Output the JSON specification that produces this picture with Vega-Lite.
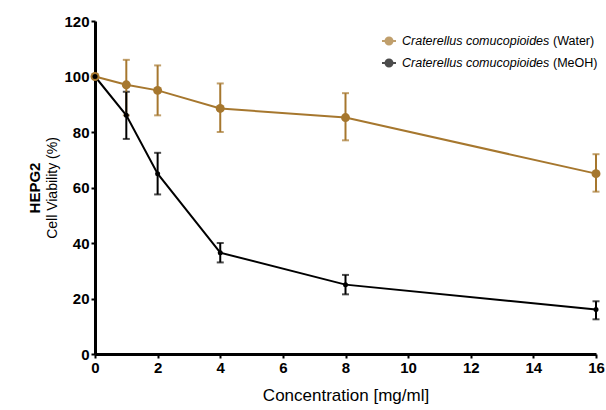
{
  "$schema": "https://vega.github.io/schema/vega-lite/v6.json",
  "width": 501,
  "height": 333,
  "autosize": {"type": "none"},
  "padding": {"left": 95, "top": 21, "right": 10, "bottom": 56},
  "background": "white",
  "config": {
    "view": {"stroke": null},
    "font": "Liberation Sans"
  },
  "data": {
    "values": [
      {"series": "Water", "conc": 0, "mean": 100, "lo": null, "hi": null},
      {"series": "Water", "conc": 1, "mean": 97, "lo": 86, "hi": 106},
      {"series": "Water", "conc": 2, "mean": 95, "lo": 86, "hi": 104},
      {"series": "Water", "conc": 4, "mean": 88.5, "lo": 80, "hi": 97.5},
      {"series": "Water", "conc": 8, "mean": 85.2, "lo": 77, "hi": 94},
      {"series": "Water", "conc": 16, "mean": 65, "lo": 58.5, "hi": 72},
      {"series": "MeOH", "conc": 0, "mean": 100, "lo": null, "hi": null},
      {"series": "MeOH", "conc": 1, "mean": 86, "lo": 77.5, "hi": 94.5},
      {"series": "MeOH", "conc": 2, "mean": 65, "lo": 57.5, "hi": 72.5},
      {"series": "MeOH", "conc": 4, "mean": 36.5, "lo": 33, "hi": 40},
      {"series": "MeOH", "conc": 8, "mean": 25, "lo": 21.5, "hi": 28.5},
      {"series": "MeOH", "conc": 16, "mean": 16, "lo": 12.5, "hi": 19}
    ]
  },
  "layer": [
    {
      "mark": {"type": "line", "strokeWidth": 2},
      "encoding": {
        "x": {
          "field": "conc", "type": "quantitative",
          "scale": {"domain": [0, 16]},
          "axis": {"values": [0, 2, 4, 6, 8, 10, 12, 14, 16], "title": "Concentration [mg/ml]", "titleFontSize": 17, "titleFontWeight": "normal", "titleColor": "black", "titlePadding": 12, "labelFlush": false, "labelFontSize": 15, "labelFontWeight": "bold", "labelColor": "black", "labelPadding": 2, "grid": false, "domainColor": "black", "domainWidth": 3, "tickColor": "black", "tickWidth": 2, "tickSize": 4}
        },
        "y": {
          "field": "mean", "type": "quantitative",
          "scale": {"domain": [0, 120]},
          "axis": {"values": [0, 20, 40, 60, 80, 100, 120], "title": "Cell Viability (%)", "titleFontSize": 14, "titleFontWeight": "normal", "titleColor": "black", "titlePadding": 4, "labelFontSize": 15, "labelFontWeight": "bold", "labelColor": "black", "labelPadding": 2, "grid": false, "domainColor": "black", "domainWidth": 3, "tickColor": "black", "tickWidth": 2, "tickSize": 4}
        },
        "color": {
          "field": "series", "type": "nominal",
          "scale": {"domain": ["Water", "MeOH"], "range": ["#A6772E", "#000000"]}
        },
        "opacity": {
          "field": "series", "type": "nominal",
          "sort": ["Water", "MeOH"],
          "scale": {"range": [1, 1]},
          "legend": {
            "orient": "none", "legendX": 442, "legendY": 12, "title": null,
            "labelExpr": "'(' + datum.label + ')'",
            "labelFontSize": 12.5, "labelColor": "black", "labelLimit": 200,
            "symbolSize": 196, "symbolType": "square", "symbolFillColor": "transparent", "symbolStrokeColor": "transparent", "rowPadding": 2, "labelOffset": 0
          }
        }
      }
    },
    {
      "mark": {"type": "errorbar", "ticks": {"size": 7}, "thickness": 2},
      "encoding": {
        "x": {"field": "conc", "type": "quantitative"},
        "y": {"field": "lo", "type": "quantitative", "scale": {"domain": [0, 120]}, "axis": null},
        "y2": {"field": "hi"},
        "color": {"field": "series", "type": "nominal"}
      }
    },
    {
      "mark": {"type": "point", "filled": true, "opacity": 1},
      "encoding": {
        "x": {"field": "conc", "type": "quantitative"},
        "y": {
          "field": "mean", "type": "quantitative",
          "scale": {"domain": [0, 120]},
          "axis": {"orient": "left", "title": "HEPG2", "titleFontWeight": "bold", "titleFontSize": 15, "titleColor": "black", "labels": false, "ticks": false, "domain": false, "grid": false, "minExtent": 0, "maxExtent": 0, "titlePadding": 53}
        },
        "color": {
          "field": "series", "type": "nominal",
          "legend": {
            "orient": "none", "legendX": 286, "legendY": 12, "title": null,
            "labelExpr": "'Craterellus comucopioides'",
            "labelFontStyle": "italic", "labelFontSize": 12.5, "labelColor": "black", "labelLimit": 300,
            "symbolType": "M-1,0L1,0M-0.5,0A0.5,0.5,0,1,1,0.5,0A0.5,0.5,0,1,1,-0.5,0Z",
            "symbolSize": 196, "symbolStrokeWidth": 2, "rowPadding": 6, "labelOffset": 5,
            "encode": {"symbols": {"stroke": {"scale": "color", "field": "value"}, "fill": {"scale": "color", "field": "value"}}}
          }
        },
        "size": {
          "field": "series", "type": "nominal",
          "sort": ["Water", "MeOH"],
          "scale": {"range": [80, 25]},
          "legend": null
        }
      }
    }
  ],
  "resolve": {"scale": {"y": "independent"}}
}
